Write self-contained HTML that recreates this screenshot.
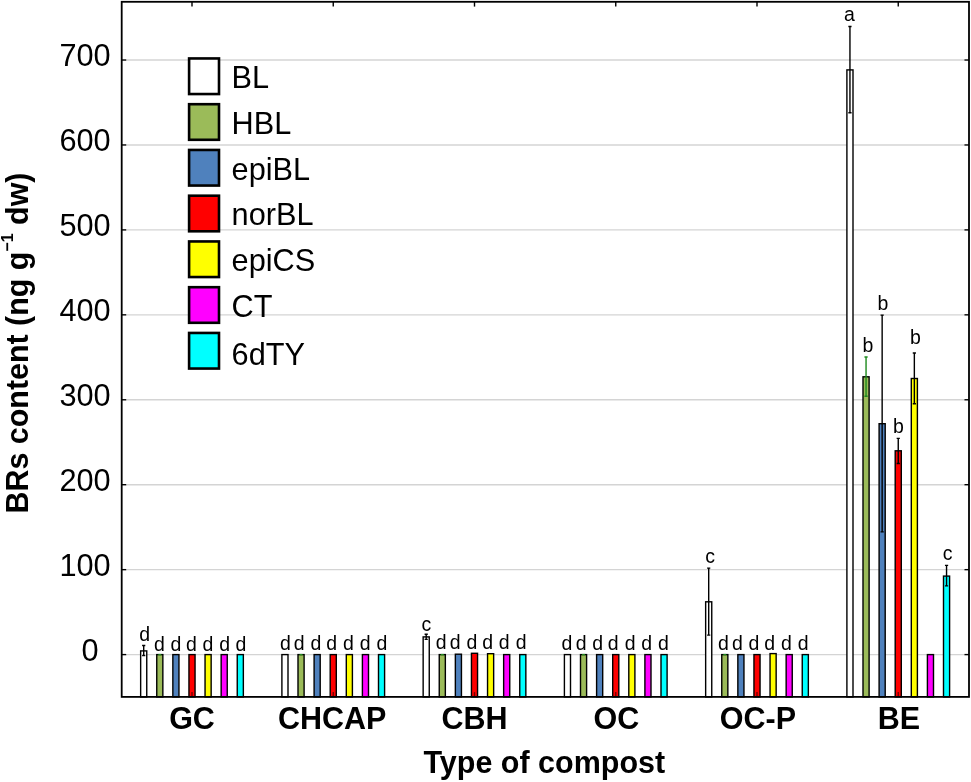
<!DOCTYPE html>
<html lang="en">
<head>
<meta charset="utf-8">
<title>BRs content by type of compost</title>
<style>
html,body{margin:0;padding:0;background:#fff;}
body{width:971px;height:782px;overflow:hidden;}
svg{display:block;}
text{font-family:"Liberation Sans",Arial,Helvetica,sans-serif;fill:#000;}
.b{font-weight:bold;}
</style>
</head>
<body>
<svg width="971" height="782" viewBox="0 0 971 782">
<rect x="0" y="0" width="971" height="782" fill="#fff"/>
<g stroke="#d4d4d4" stroke-width="1.4">
<line x1="125.7" x2="965.0" y1="654.60" y2="654.60"/>
<line x1="125.7" x2="965.0" y1="569.66" y2="569.66"/>
<line x1="125.7" x2="965.0" y1="484.72" y2="484.72"/>
<line x1="125.7" x2="965.0" y1="399.78" y2="399.78"/>
<line x1="125.7" x2="965.0" y1="314.84" y2="314.84"/>
<line x1="125.7" x2="965.0" y1="229.90" y2="229.90"/>
<line x1="125.7" x2="965.0" y1="144.96" y2="144.96"/>
<line x1="125.7" x2="965.0" y1="60.02" y2="60.02"/>
</g>
<g stroke="#000" stroke-width="1.4">
<rect x="140.65" y="650.90" width="6.1" height="46.00" fill="#ffffff"/>
<rect x="156.75" y="654.60" width="6.1" height="42.30" fill="#9bbb59"/>
<rect x="172.85" y="654.60" width="6.1" height="42.30" fill="#4f81bd"/>
<rect x="188.95" y="654.60" width="6.1" height="42.30" fill="#ff0000"/>
<rect x="205.05" y="654.60" width="6.1" height="42.30" fill="#ffff00"/>
<rect x="221.15" y="654.60" width="6.1" height="42.30" fill="#ff00ff"/>
<rect x="237.25" y="654.60" width="6.1" height="42.30" fill="#00ffff"/>
<rect x="281.90" y="654.60" width="6.1" height="42.30" fill="#ffffff"/>
<rect x="298.00" y="654.60" width="6.1" height="42.30" fill="#9bbb59"/>
<rect x="314.10" y="654.60" width="6.1" height="42.30" fill="#4f81bd"/>
<rect x="330.20" y="654.60" width="6.1" height="42.30" fill="#ff0000"/>
<rect x="346.30" y="654.60" width="6.1" height="42.30" fill="#ffff00"/>
<rect x="362.40" y="654.60" width="6.1" height="42.30" fill="#ff00ff"/>
<rect x="378.50" y="654.60" width="6.1" height="42.30" fill="#00ffff"/>
<rect x="423.15" y="636.90" width="6.1" height="60.00" fill="#ffffff"/>
<rect x="439.25" y="654.60" width="6.1" height="42.30" fill="#9bbb59"/>
<rect x="455.35" y="654.20" width="6.1" height="42.70" fill="#4f81bd"/>
<rect x="471.45" y="653.30" width="6.1" height="43.60" fill="#ff0000"/>
<rect x="487.55" y="653.70" width="6.1" height="43.20" fill="#ffff00"/>
<rect x="503.65" y="654.60" width="6.1" height="42.30" fill="#ff00ff"/>
<rect x="519.75" y="654.60" width="6.1" height="42.30" fill="#00ffff"/>
<rect x="564.40" y="654.60" width="6.1" height="42.30" fill="#ffffff"/>
<rect x="580.50" y="654.60" width="6.1" height="42.30" fill="#9bbb59"/>
<rect x="596.60" y="654.60" width="6.1" height="42.30" fill="#4f81bd"/>
<rect x="612.70" y="654.60" width="6.1" height="42.30" fill="#ff0000"/>
<rect x="628.80" y="654.60" width="6.1" height="42.30" fill="#ffff00"/>
<rect x="644.90" y="654.60" width="6.1" height="42.30" fill="#ff00ff"/>
<rect x="661.00" y="654.60" width="6.1" height="42.30" fill="#00ffff"/>
<rect x="705.65" y="601.80" width="6.1" height="95.10" fill="#ffffff"/>
<rect x="721.75" y="654.60" width="6.1" height="42.30" fill="#9bbb59"/>
<rect x="737.85" y="654.60" width="6.1" height="42.30" fill="#4f81bd"/>
<rect x="753.95" y="654.60" width="6.1" height="42.30" fill="#ff0000"/>
<rect x="770.05" y="653.60" width="6.1" height="43.30" fill="#ffff00"/>
<rect x="786.15" y="654.60" width="6.1" height="42.30" fill="#ff00ff"/>
<rect x="802.25" y="654.60" width="6.1" height="42.30" fill="#00ffff"/>
<rect x="846.90" y="69.90" width="6.1" height="627.00" fill="#ffffff"/>
<rect x="863.00" y="376.80" width="6.1" height="320.10" fill="#9bbb59"/>
<rect x="879.10" y="423.70" width="6.1" height="273.20" fill="#4f81bd"/>
<rect x="895.20" y="450.80" width="6.1" height="246.10" fill="#ff0000"/>
<rect x="911.30" y="378.50" width="6.1" height="318.40" fill="#ffff00"/>
<rect x="927.40" y="654.60" width="6.1" height="42.30" fill="#ff00ff"/>
<rect x="943.50" y="576.10" width="6.1" height="120.80" fill="#00ffff"/>
</g>
<g stroke="#1e8a1e" stroke-width="1.3">
<line x1="158.30" x2="161.30" y1="654.60" y2="654.60"/>
<line x1="299.55" x2="302.55" y1="654.60" y2="654.60"/>
<line x1="440.80" x2="443.80" y1="654.60" y2="654.60"/>
<line x1="582.05" x2="585.05" y1="654.60" y2="654.60"/>
<line x1="723.30" x2="726.30" y1="654.60" y2="654.60"/>
</g>
<path d="M143.70 645.50V655.50M142.10 645.50H145.30M142.10 655.50H145.30" stroke="#000" stroke-width="1.4" fill="none"/>
<path d="M426.20 634.30V639.40M424.60 634.30H427.80M424.60 639.40H427.80" stroke="#000" stroke-width="1.4" fill="none"/>
<path d="M708.70 568.10V635.10M707.10 568.10H710.30M707.10 635.10H710.30" stroke="#000" stroke-width="1.4" fill="none"/>
<path d="M849.95 26.50V112.80M848.35 26.50H851.55M848.35 112.80H851.55" stroke="#000" stroke-width="1.4" fill="none"/>
<path d="M866.05 357.00V396.20M864.45 357.00H867.65M864.45 396.20H867.65" stroke="#1e8a1e" stroke-width="1.4" fill="none"/>
<path d="M882.15 315.10V531.90M880.55 315.10H883.75M880.55 531.90H883.75" stroke="#000" stroke-width="1.4" fill="none"/>
<path d="M898.25 438.40V463.50M896.65 438.40H899.85M896.65 463.50H899.85" stroke="#000" stroke-width="1.4" fill="none"/>
<path d="M914.35 353.00V403.70M912.75 353.00H915.95M912.75 403.70H915.95" stroke="#000" stroke-width="1.4" fill="none"/>
<path d="M946.55 565.40V585.90M944.95 565.40H948.15M944.95 585.90H948.15" stroke="#000" stroke-width="1.4" fill="none"/>
<rect x="121.7" y="1.8" width="847.3" height="695.1" fill="none" stroke="#000" stroke-width="1.8"/>
<g stroke="#000" stroke-width="1.4">
<line x1="121.7" x2="126.2" y1="654.60" y2="654.60"/>
<line x1="964.5" x2="969.0" y1="654.60" y2="654.60"/>
<line x1="121.7" x2="126.2" y1="569.66" y2="569.66"/>
<line x1="964.5" x2="969.0" y1="569.66" y2="569.66"/>
<line x1="121.7" x2="126.2" y1="484.72" y2="484.72"/>
<line x1="964.5" x2="969.0" y1="484.72" y2="484.72"/>
<line x1="121.7" x2="126.2" y1="399.78" y2="399.78"/>
<line x1="964.5" x2="969.0" y1="399.78" y2="399.78"/>
<line x1="121.7" x2="126.2" y1="314.84" y2="314.84"/>
<line x1="964.5" x2="969.0" y1="314.84" y2="314.84"/>
<line x1="121.7" x2="126.2" y1="229.90" y2="229.90"/>
<line x1="964.5" x2="969.0" y1="229.90" y2="229.90"/>
<line x1="121.7" x2="126.2" y1="144.96" y2="144.96"/>
<line x1="964.5" x2="969.0" y1="144.96" y2="144.96"/>
<line x1="121.7" x2="126.2" y1="60.02" y2="60.02"/>
<line x1="964.5" x2="969.0" y1="60.02" y2="60.02"/>
<line x1="192.00" x2="192.00" y1="1.8" y2="6.6"/>
<line x1="192.00" x2="192.00" y1="692.1" y2="696.9" stroke-opacity="0.55"/>
<line x1="333.25" x2="333.25" y1="1.8" y2="6.6"/>
<line x1="333.25" x2="333.25" y1="692.1" y2="696.9" stroke-opacity="0.55"/>
<line x1="474.50" x2="474.50" y1="1.8" y2="6.6"/>
<line x1="474.50" x2="474.50" y1="692.1" y2="696.9" stroke-opacity="0.55"/>
<line x1="615.75" x2="615.75" y1="1.8" y2="6.6"/>
<line x1="615.75" x2="615.75" y1="692.1" y2="696.9" stroke-opacity="0.55"/>
<line x1="757.00" x2="757.00" y1="1.8" y2="6.6"/>
<line x1="757.00" x2="757.00" y1="692.1" y2="696.9" stroke-opacity="0.55"/>
<line x1="898.25" x2="898.25" y1="1.8" y2="6.6"/>
<line x1="898.25" x2="898.25" y1="692.1" y2="696.9" stroke-opacity="0.55"/>
</g>
<g font-size="30.7" text-anchor="end">
<text transform="translate(98.60 660.60) scale(1 1.04)">0</text>
<text transform="translate(110.60 575.66) scale(1 1.04)">100</text>
<text transform="translate(110.60 490.72) scale(1 1.04)">200</text>
<text transform="translate(110.60 405.78) scale(1 1.04)">300</text>
<text transform="translate(110.60 320.84) scale(1 1.04)">400</text>
<text transform="translate(110.60 235.90) scale(1 1.04)">500</text>
<text transform="translate(110.60 150.96) scale(1 1.04)">600</text>
<text transform="translate(110.60 66.02) scale(1 1.04)">700</text>
</g>
<g stroke="#000" stroke-width="2.6">
<rect x="189.1" y="58.45" width="29.9" height="35.6" fill="#ffffff"/>
<rect x="189.1" y="104.20" width="29.9" height="35.6" fill="#9bbb59"/>
<rect x="189.1" y="149.95" width="29.9" height="35.6" fill="#4f81bd"/>
<rect x="189.1" y="195.70" width="29.9" height="35.6" fill="#ff0000"/>
<rect x="189.1" y="241.45" width="29.9" height="35.6" fill="#ffff00"/>
<rect x="189.1" y="287.20" width="29.9" height="35.6" fill="#ff00ff"/>
<rect x="189.1" y="332.95" width="29.9" height="35.6" fill="#00ffff"/>
</g>
<g font-size="30.7">
<text transform="translate(231.60 87.90) scale(1 1.04)">BL</text>
<text transform="translate(231.60 133.65) scale(1 1.04)">HBL</text>
<text transform="translate(231.60 180.20) scale(1 1.04)">epiBL</text>
<text transform="translate(231.60 225.45) scale(1 1.04)">norBL</text>
<text transform="translate(231.60 271.40) scale(1 1.04)">epiCS</text>
<text transform="translate(231.60 317.35) scale(1 1.04)">CT</text>
<text transform="translate(231.60 364.70) scale(1 1.04)">6dTY</text>
</g>
<g font-size="19.5" text-anchor="middle">
<text transform="translate(144.55 640.60) scale(1 1.04)">d</text>
<text transform="translate(159.35 650.90) scale(1 1.04)">d</text>
<text transform="translate(175.95 650.90) scale(1 1.04)">d</text>
<text transform="translate(191.35 650.90) scale(1 1.04)">d</text>
<text transform="translate(207.95 650.90) scale(1 1.04)">d</text>
<text transform="translate(224.55 650.90) scale(1 1.04)">d</text>
<text transform="translate(240.85 650.90) scale(1 1.04)">d</text>
<text transform="translate(285.35 650.00) scale(1 1.04)">d</text>
<text transform="translate(299.15 650.00) scale(1 1.04)">d</text>
<text transform="translate(315.95 650.00) scale(1 1.04)">d</text>
<text transform="translate(331.65 650.00) scale(1 1.04)">d</text>
<text transform="translate(348.35 650.00) scale(1 1.04)">d</text>
<text transform="translate(365.05 650.00) scale(1 1.04)">d</text>
<text transform="translate(381.85 650.00) scale(1 1.04)">d</text>
<text transform="translate(426.40 631.20) scale(1 1.04)">c</text>
<text transform="translate(441.05 648.80) scale(1 1.04)">d</text>
<text transform="translate(455.15 648.80) scale(1 1.04)">d</text>
<text transform="translate(471.95 648.80) scale(1 1.04)">d</text>
<text transform="translate(487.55 648.80) scale(1 1.04)">d</text>
<text transform="translate(504.15 648.80) scale(1 1.04)">d</text>
<text transform="translate(521.05 648.80) scale(1 1.04)">d</text>
<text transform="translate(566.85 649.90) scale(1 1.04)">d</text>
<text transform="translate(581.05 649.90) scale(1 1.04)">d</text>
<text transform="translate(597.65 649.90) scale(1 1.04)">d</text>
<text transform="translate(613.25 649.90) scale(1 1.04)">d</text>
<text transform="translate(630.05 649.90) scale(1 1.04)">d</text>
<text transform="translate(646.65 649.90) scale(1 1.04)">d</text>
<text transform="translate(663.45 649.90) scale(1 1.04)">d</text>
<text transform="translate(710.00 563.40) scale(1 1.04)">c</text>
<text transform="translate(723.35 649.70) scale(1 1.04)">d</text>
<text transform="translate(737.45 649.70) scale(1 1.04)">d</text>
<text transform="translate(753.95 649.70) scale(1 1.04)">d</text>
<text transform="translate(769.65 649.70) scale(1 1.04)">d</text>
<text transform="translate(786.35 649.70) scale(1 1.04)">d</text>
<text transform="translate(803.15 649.70) scale(1 1.04)">d</text>
<text transform="translate(849.50 21.40) scale(1 1.04)">a</text>
<text transform="translate(867.95 351.80) scale(1 1.04)">b</text>
<text transform="translate(882.85 309.90) scale(1 1.04)">b</text>
<text transform="translate(898.45 432.60) scale(1 1.04)">b</text>
<text transform="translate(915.45 343.70) scale(1 1.04)">b</text>
<text transform="translate(947.50 559.90) scale(1 1.04)">c</text>
</g>
<g font-size="30.5" text-anchor="middle" class="b">
<text transform="translate(192.00 729.00) scale(1 1.04)">GC</text>
<text transform="translate(332.20 729.00) scale(1 1.04)">CHCAP</text>
<text transform="translate(474.50 729.00) scale(1 1.04)">CBH</text>
<text transform="translate(616.30 729.00) scale(1 1.04)">OC</text>
<text transform="translate(757.90 729.00) scale(1 1.04)">OC-P</text>
<text transform="translate(898.90 729.00) scale(1 1.04)">BE</text>
<text transform="translate(544.30 772.80) scale(1 1.04)">Type of compost</text>
<text transform="translate(28 343.0) rotate(-90) scale(1 1.04)" font-size="30.43" x="0" y="0">BRs content (ng g<tspan font-size="16" dy="-14.5">−1</tspan><tspan dy="14.5"> dw)</tspan></text>
</g>
</svg>
</body>
</html>
